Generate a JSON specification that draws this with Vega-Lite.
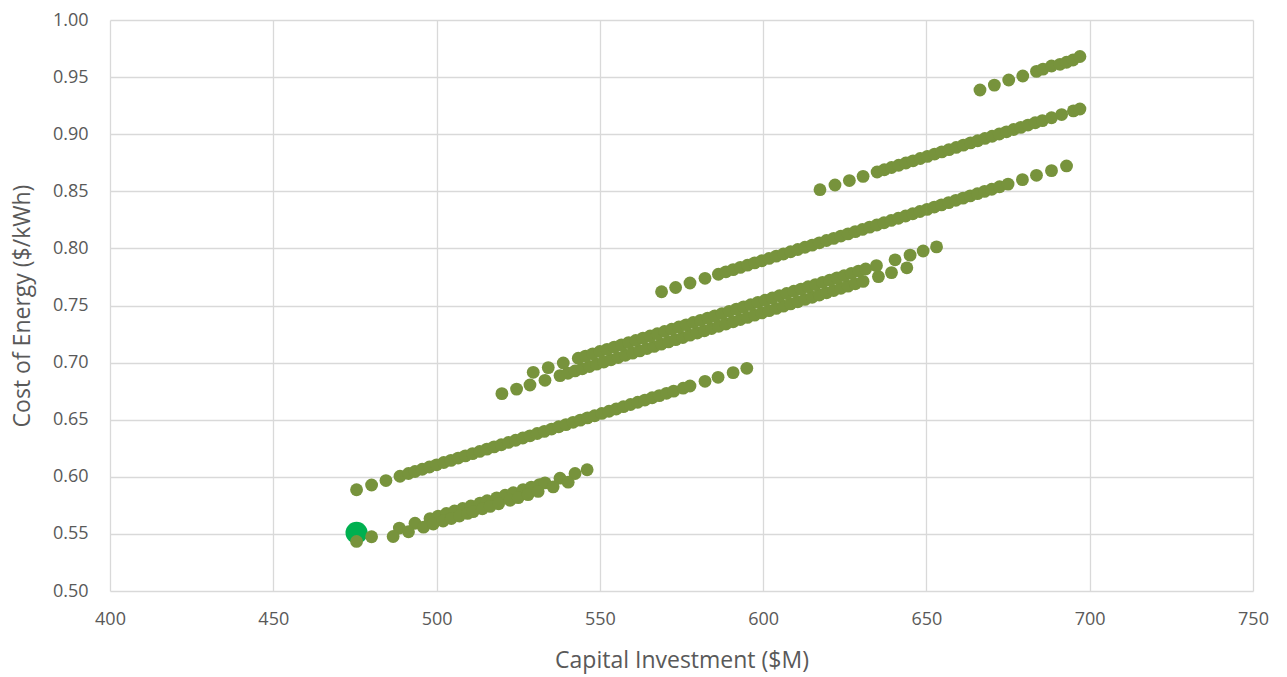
{
  "$schema": "https://vega.github.io/schema/vega-lite/v6.json",
  "width": 1143,
  "height": 571,
  "autosize": {"type": "none"},
  "padding": {"left": 110, "top": 20, "right": 34, "bottom": 86},
  "background": "#ffffff",
  "config": {
    "view": {"stroke": null},
    "axis": {
      "grid": true,
      "gridColor": "#D9D9D9",
      "gridWidth": 1.3,
      "domain": false,
      "ticks": false,
      "labelFlush": false,
      "labelColor": "#595959",
      "titleColor": "#595959",
      "labelFont": "Open Sans",
      "titleFont": "Open Sans",
      "titleFontWeight": "normal"
    }
  },
  "datasets": {
    "designs": [
      {"band": "A1", "x": 475.5, "y": 0.5434}, {"band": "A1", "x": 480.1, "y": 0.5475}, {"band": "A1", "x": 488.6, "y": 0.5551},
      {"band": "A1", "x": 493.4, "y": 0.5593}, {"band": "A1", "x": 498.0, "y": 0.5634}, {"band": "A1", "x": 500.5, "y": 0.5656},
      {"band": "A1", "x": 503.0, "y": 0.5679}, {"band": "A1", "x": 505.5, "y": 0.5701}, {"band": "A1", "x": 508.0, "y": 0.5723},
      {"band": "A1", "x": 510.5, "y": 0.5745}, {"band": "A1", "x": 513.3, "y": 0.5770}, {"band": "A1", "x": 515.5, "y": 0.5790},
      {"band": "A1", "x": 518.4, "y": 0.5816}, {"band": "A1", "x": 521.0, "y": 0.5839}, {"band": "A1", "x": 523.5, "y": 0.5861},
      {"band": "A1", "x": 526.5, "y": 0.5888}, {"band": "A1", "x": 529.0, "y": 0.5910}, {"band": "A1", "x": 531.5, "y": 0.5932},
      {"band": "A1", "x": 533.2, "y": 0.5947}, {"band": "A1", "x": 537.8, "y": 0.5988}, {"band": "A1", "x": 542.4, "y": 0.6029},
      {"band": "A1", "x": 546.1, "y": 0.6062},
      {"band": "A2", "x": 486.7, "y": 0.5477}, {"band": "A2", "x": 491.4, "y": 0.5519}, {"band": "A2", "x": 496.0, "y": 0.5559},
      {"band": "A2", "x": 499.0, "y": 0.5586}, {"band": "A2", "x": 502.0, "y": 0.5613}, {"band": "A2", "x": 504.5, "y": 0.5635},
      {"band": "A2", "x": 507.0, "y": 0.5657}, {"band": "A2", "x": 509.5, "y": 0.5680}, {"band": "A2", "x": 511.2, "y": 0.5695},
      {"band": "A2", "x": 514.0, "y": 0.5720}, {"band": "A2", "x": 516.4, "y": 0.5741}, {"band": "A2", "x": 519.0, "y": 0.5764},
      {"band": "A2", "x": 522.5, "y": 0.5795}, {"band": "A2", "x": 525.0, "y": 0.5817}, {"band": "A2", "x": 528.0, "y": 0.5844},
      {"band": "A2", "x": 531.1, "y": 0.5872}, {"band": "A2", "x": 535.7, "y": 0.5912}, {"band": "A2", "x": 540.3, "y": 0.5953},
      {"band": "B", "x": 475.5, "y": 0.5887}, {"band": "B", "x": 480.1, "y": 0.5928}, {"band": "B", "x": 484.5, "y": 0.5967},
      {"band": "B", "x": 488.8, "y": 0.6005}, {"band": "B", "x": 491.4, "y": 0.6029}, {"band": "B", "x": 493.4, "y": 0.6046},
      {"band": "B", "x": 495.6, "y": 0.6066}, {"band": "B", "x": 497.8, "y": 0.6086}, {"band": "B", "x": 500.0, "y": 0.6105},
      {"band": "B", "x": 502.2, "y": 0.6125}, {"band": "B", "x": 504.4, "y": 0.6144}, {"band": "B", "x": 506.6, "y": 0.6164},
      {"band": "B", "x": 508.8, "y": 0.6183}, {"band": "B", "x": 511.0, "y": 0.6203}, {"band": "B", "x": 513.2, "y": 0.6222},
      {"band": "B", "x": 515.4, "y": 0.6242}, {"band": "B", "x": 517.6, "y": 0.6262}, {"band": "B", "x": 519.8, "y": 0.6281},
      {"band": "B", "x": 522.0, "y": 0.6301}, {"band": "B", "x": 524.2, "y": 0.6320}, {"band": "B", "x": 526.4, "y": 0.6340},
      {"band": "B", "x": 528.6, "y": 0.6359}, {"band": "B", "x": 530.8, "y": 0.6379}, {"band": "B", "x": 533.0, "y": 0.6398},
      {"band": "B", "x": 535.2, "y": 0.6418}, {"band": "B", "x": 537.4, "y": 0.6438}, {"band": "B", "x": 539.6, "y": 0.6457},
      {"band": "B", "x": 541.8, "y": 0.6477}, {"band": "B", "x": 544.0, "y": 0.6496}, {"band": "B", "x": 546.2, "y": 0.6516},
      {"band": "B", "x": 548.4, "y": 0.6535}, {"band": "B", "x": 550.6, "y": 0.6555}, {"band": "B", "x": 552.8, "y": 0.6574},
      {"band": "B", "x": 555.0, "y": 0.6594}, {"band": "B", "x": 557.2, "y": 0.6614}, {"band": "B", "x": 559.4, "y": 0.6633},
      {"band": "B", "x": 561.6, "y": 0.6653}, {"band": "B", "x": 563.8, "y": 0.6672}, {"band": "B", "x": 566.0, "y": 0.6692},
      {"band": "B", "x": 568.2, "y": 0.6711}, {"band": "B", "x": 570.4, "y": 0.6731}, {"band": "B", "x": 572.6, "y": 0.6750},
      {"band": "B", "x": 575.5, "y": 0.6776}, {"band": "B", "x": 577.6, "y": 0.6795}, {"band": "B", "x": 582.2, "y": 0.6836},
      {"band": "B", "x": 586.2, "y": 0.6871}, {"band": "B", "x": 590.8, "y": 0.6912}, {"band": "B", "x": 595.0, "y": 0.6950},
      {"band": "C1", "x": 520.0, "y": 0.6728}, {"band": "C1", "x": 524.5, "y": 0.6768}, {"band": "C1", "x": 528.6, "y": 0.6804},
      {"band": "C1", "x": 533.2, "y": 0.6845}, {"band": "C1", "x": 537.8, "y": 0.6886}, {"band": "C1", "x": 540.2, "y": 0.6907},
      {"band": "C1", "x": 542.4, "y": 0.6927}, {"band": "C1", "x": 544.6, "y": 0.6946}, {"band": "C1", "x": 546.8, "y": 0.6966},
      {"band": "C1", "x": 549.0, "y": 0.6986}, {"band": "C1", "x": 551.2, "y": 0.7005}, {"band": "C1", "x": 553.4, "y": 0.7025},
      {"band": "C1", "x": 555.6, "y": 0.7044}, {"band": "C1", "x": 557.8, "y": 0.7064}, {"band": "C1", "x": 560.0, "y": 0.7083},
      {"band": "C1", "x": 562.2, "y": 0.7103}, {"band": "C1", "x": 564.4, "y": 0.7123}, {"band": "C1", "x": 566.6, "y": 0.7142},
      {"band": "C1", "x": 568.8, "y": 0.7162}, {"band": "C1", "x": 571.0, "y": 0.7181}, {"band": "C1", "x": 573.2, "y": 0.7201},
      {"band": "C1", "x": 575.4, "y": 0.7220}, {"band": "C1", "x": 577.6, "y": 0.7240}, {"band": "C1", "x": 579.8, "y": 0.7259},
      {"band": "C1", "x": 582.0, "y": 0.7279}, {"band": "C1", "x": 584.2, "y": 0.7299}, {"band": "C1", "x": 586.4, "y": 0.7318},
      {"band": "C1", "x": 588.6, "y": 0.7338}, {"band": "C1", "x": 590.8, "y": 0.7357}, {"band": "C1", "x": 593.0, "y": 0.7377},
      {"band": "C1", "x": 595.2, "y": 0.7396}, {"band": "C1", "x": 597.4, "y": 0.7416}, {"band": "C1", "x": 599.6, "y": 0.7435},
      {"band": "C1", "x": 601.8, "y": 0.7455}, {"band": "C1", "x": 604.0, "y": 0.7475}, {"band": "C1", "x": 606.2, "y": 0.7494},
      {"band": "C1", "x": 608.4, "y": 0.7514}, {"band": "C1", "x": 610.6, "y": 0.7533}, {"band": "C1", "x": 612.8, "y": 0.7553},
      {"band": "C1", "x": 615.0, "y": 0.7572}, {"band": "C1", "x": 617.2, "y": 0.7592}, {"band": "C1", "x": 619.4, "y": 0.7611},
      {"band": "C1", "x": 621.6, "y": 0.7631}, {"band": "C1", "x": 623.8, "y": 0.7651}, {"band": "C1", "x": 626.0, "y": 0.7670},
      {"band": "C1", "x": 628.2, "y": 0.7690}, {"band": "C1", "x": 630.6, "y": 0.7711}, {"band": "C1", "x": 635.3, "y": 0.7753},
      {"band": "C1", "x": 639.3, "y": 0.7788}, {"band": "C1", "x": 644.0, "y": 0.7830},
      {"band": "C2", "x": 529.6, "y": 0.6915}, {"band": "C2", "x": 534.2, "y": 0.6956}, {"band": "C2", "x": 538.8, "y": 0.6997},
      {"band": "C2", "x": 543.4, "y": 0.7038}, {"band": "C2", "x": 545.6, "y": 0.7057}, {"band": "C2", "x": 547.8, "y": 0.7077},
      {"band": "C2", "x": 550.0, "y": 0.7097}, {"band": "C2", "x": 552.2, "y": 0.7116}, {"band": "C2", "x": 554.4, "y": 0.7136},
      {"band": "C2", "x": 556.6, "y": 0.7155}, {"band": "C2", "x": 558.8, "y": 0.7175}, {"band": "C2", "x": 561.0, "y": 0.7194},
      {"band": "C2", "x": 563.2, "y": 0.7214}, {"band": "C2", "x": 565.4, "y": 0.7233}, {"band": "C2", "x": 567.6, "y": 0.7253},
      {"band": "C2", "x": 569.8, "y": 0.7273}, {"band": "C2", "x": 572.0, "y": 0.7292}, {"band": "C2", "x": 574.2, "y": 0.7312},
      {"band": "C2", "x": 576.4, "y": 0.7331}, {"band": "C2", "x": 578.6, "y": 0.7351}, {"band": "C2", "x": 580.8, "y": 0.7370},
      {"band": "C2", "x": 583.0, "y": 0.7390}, {"band": "C2", "x": 585.2, "y": 0.7409}, {"band": "C2", "x": 587.4, "y": 0.7429},
      {"band": "C2", "x": 589.6, "y": 0.7449}, {"band": "C2", "x": 591.8, "y": 0.7468}, {"band": "C2", "x": 594.0, "y": 0.7488},
      {"band": "C2", "x": 596.2, "y": 0.7507}, {"band": "C2", "x": 598.4, "y": 0.7527}, {"band": "C2", "x": 600.6, "y": 0.7546},
      {"band": "C2", "x": 602.8, "y": 0.7566}, {"band": "C2", "x": 605.0, "y": 0.7585}, {"band": "C2", "x": 607.2, "y": 0.7605},
      {"band": "C2", "x": 609.4, "y": 0.7625}, {"band": "C2", "x": 611.6, "y": 0.7644}, {"band": "C2", "x": 613.8, "y": 0.7664},
      {"band": "C2", "x": 616.0, "y": 0.7683}, {"band": "C2", "x": 618.2, "y": 0.7703}, {"band": "C2", "x": 620.4, "y": 0.7722},
      {"band": "C2", "x": 622.6, "y": 0.7742}, {"band": "C2", "x": 624.8, "y": 0.7761}, {"band": "C2", "x": 627.0, "y": 0.7781},
      {"band": "C2", "x": 629.2, "y": 0.7801}, {"band": "C2", "x": 631.4, "y": 0.7820}, {"band": "C2", "x": 634.7, "y": 0.7849},
      {"band": "C2", "x": 640.4, "y": 0.7900}, {"band": "C2", "x": 645.0, "y": 0.7941}, {"band": "C2", "x": 649.0, "y": 0.7977},
      {"band": "C2", "x": 653.1, "y": 0.8013},
      {"band": "D", "x": 568.9, "y": 0.7620}, {"band": "D", "x": 573.2, "y": 0.7658}, {"band": "D", "x": 577.6, "y": 0.7697},
      {"band": "D", "x": 582.2, "y": 0.7738}, {"band": "D", "x": 586.3, "y": 0.7774}, {"band": "D", "x": 588.6, "y": 0.7795},
      {"band": "D", "x": 590.8, "y": 0.7814}, {"band": "D", "x": 593.0, "y": 0.7834}, {"band": "D", "x": 595.2, "y": 0.7853},
      {"band": "D", "x": 597.4, "y": 0.7873}, {"band": "D", "x": 599.6, "y": 0.7892}, {"band": "D", "x": 601.8, "y": 0.7912},
      {"band": "D", "x": 604.0, "y": 0.7932}, {"band": "D", "x": 606.2, "y": 0.7951}, {"band": "D", "x": 608.4, "y": 0.7971},
      {"band": "D", "x": 610.6, "y": 0.7990}, {"band": "D", "x": 612.8, "y": 0.8010}, {"band": "D", "x": 615.0, "y": 0.8029},
      {"band": "D", "x": 617.2, "y": 0.8049}, {"band": "D", "x": 619.4, "y": 0.8069}, {"band": "D", "x": 621.6, "y": 0.8088},
      {"band": "D", "x": 623.8, "y": 0.8108}, {"band": "D", "x": 626.0, "y": 0.8127}, {"band": "D", "x": 628.2, "y": 0.8147},
      {"band": "D", "x": 630.4, "y": 0.8166}, {"band": "D", "x": 632.6, "y": 0.8186}, {"band": "D", "x": 634.8, "y": 0.8205},
      {"band": "D", "x": 637.0, "y": 0.8225}, {"band": "D", "x": 639.2, "y": 0.8245}, {"band": "D", "x": 641.4, "y": 0.8264},
      {"band": "D", "x": 643.6, "y": 0.8284}, {"band": "D", "x": 645.8, "y": 0.8303}, {"band": "D", "x": 648.0, "y": 0.8323},
      {"band": "D", "x": 650.2, "y": 0.8342}, {"band": "D", "x": 652.4, "y": 0.8362}, {"band": "D", "x": 654.6, "y": 0.8381},
      {"band": "D", "x": 656.8, "y": 0.8401}, {"band": "D", "x": 659.0, "y": 0.8421}, {"band": "D", "x": 661.2, "y": 0.8440},
      {"band": "D", "x": 663.4, "y": 0.8460}, {"band": "D", "x": 665.6, "y": 0.8479}, {"band": "D", "x": 667.8, "y": 0.8499},
      {"band": "D", "x": 670.0, "y": 0.8518}, {"band": "D", "x": 672.4, "y": 0.8540}, {"band": "D", "x": 675.0, "y": 0.8563},
      {"band": "D", "x": 679.4, "y": 0.8602}, {"band": "D", "x": 683.7, "y": 0.8640}, {"band": "D", "x": 688.3, "y": 0.8681},
      {"band": "D", "x": 692.9, "y": 0.8722},
      {"band": "E", "x": 617.4, "y": 0.8514}, {"band": "E", "x": 622.0, "y": 0.8555}, {"band": "E", "x": 626.4, "y": 0.8594},
      {"band": "E", "x": 630.6, "y": 0.8631}, {"band": "E", "x": 634.9, "y": 0.8669}, {"band": "E", "x": 637.1, "y": 0.8689},
      {"band": "E", "x": 639.3, "y": 0.8708}, {"band": "E", "x": 641.5, "y": 0.8728}, {"band": "E", "x": 643.7, "y": 0.8748},
      {"band": "E", "x": 645.9, "y": 0.8767}, {"band": "E", "x": 648.1, "y": 0.8787}, {"band": "E", "x": 650.3, "y": 0.8806},
      {"band": "E", "x": 652.5, "y": 0.8826}, {"band": "E", "x": 654.7, "y": 0.8845}, {"band": "E", "x": 656.9, "y": 0.8865},
      {"band": "E", "x": 659.1, "y": 0.8884}, {"band": "E", "x": 661.3, "y": 0.8904}, {"band": "E", "x": 663.5, "y": 0.8924},
      {"band": "E", "x": 665.7, "y": 0.8943}, {"band": "E", "x": 667.9, "y": 0.8963}, {"band": "E", "x": 670.1, "y": 0.8982},
      {"band": "E", "x": 672.3, "y": 0.9002}, {"band": "E", "x": 674.5, "y": 0.9021}, {"band": "E", "x": 676.7, "y": 0.9041},
      {"band": "E", "x": 678.9, "y": 0.9060}, {"band": "E", "x": 681.1, "y": 0.9080}, {"band": "E", "x": 683.3, "y": 0.9100},
      {"band": "E", "x": 685.5, "y": 0.9119}, {"band": "E", "x": 688.3, "y": 0.9144}, {"band": "E", "x": 691.4, "y": 0.9172},
      {"band": "E", "x": 695.0, "y": 0.9204}, {"band": "E", "x": 697.0, "y": 0.9221},
      {"band": "F", "x": 666.4, "y": 0.9387}, {"band": "F", "x": 670.8, "y": 0.9430}, {"band": "F", "x": 675.2, "y": 0.9475},
      {"band": "F", "x": 679.5, "y": 0.9510}, {"band": "F", "x": 683.7, "y": 0.9550}, {"band": "F", "x": 685.7, "y": 0.9570},
      {"band": "F", "x": 688.3, "y": 0.9597}, {"band": "F", "x": 690.9, "y": 0.9612}, {"band": "F", "x": 692.9, "y": 0.9630},
      {"band": "F", "x": 694.9, "y": 0.9650}, {"band": "F", "x": 697.0, "y": 0.9680}
    ],
    "optimum": [
      {"x": 475.5, "y": 0.551}
    ]
  },
  "encoding": {
    "x": {
      "field": "x",
      "type": "quantitative",
      "scale": {"domain": [400, 750], "nice": false, "zero": false},
      "axis": {
        "title": "Capital Investment ($M)",
        "values": [400, 450, 500, 550, 600, 650, 700, 750],
        "labelFontSize": 18,
        "labelPadding": 19,
        "titleFontSize": 23,
        "titleX": 571.5,
        "titleY": 69,
        "titleBaseline": "middle"
      }
    },
    "y": {
      "field": "y",
      "type": "quantitative",
      "scale": {"domain": [0.5, 1.0], "nice": false, "zero": false},
      "axis": {
        "title": "Cost of Energy ($/kWh)",
        "values": [0.5, 0.55, 0.6, 0.65, 0.7, 0.75, 0.8, 0.85, 0.9, 0.95, 1.0],
        "format": ".2f",
        "labelFontSize": 18,
        "labelPadding": 22,
        "titleFontSize": 23,
        "titleAngle": -90,
        "titleX": -88,
        "titleY": 285.5,
        "titleBaseline": "middle",
        "titleAlign": "center"
      }
    }
  },
  "layer": [
    {
      "data": {"name": "optimum"},
      "mark": {"type": "circle", "size": 490, "color": "#00B050", "opacity": 1}
    },
    {
      "data": {"name": "designs"},
      "mark": {"type": "circle", "size": 165, "color": "#77933C", "opacity": 1}
    }
  ]
}
